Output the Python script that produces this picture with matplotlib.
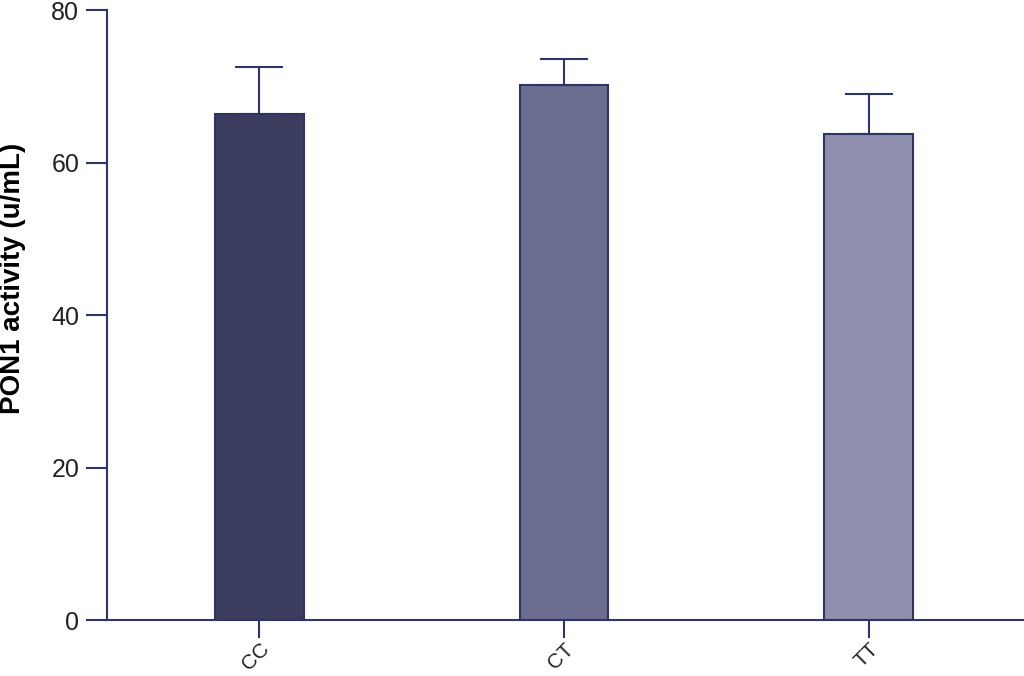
import matplotlib.pyplot as plt
from matplotlib import font_manager

# Data
genotypes = ['CC', 'CT', 'TT']
pon1_mean = [66.4, 70.2, 63.7]
pon1_sd = [6.1, 3.4, 5.3]
bar_colors = ['#3b3d5e', '#6b6e90', '#9090ae']
edge = '#2e3565'

names = {f.name for f in font_manager.fontManager.ttflist}
font = 'Liberation Sans Narrow' if 'Liberation Sans Narrow' in names else 'Liberation Sans'
plt.rcParams['font.family'] = [font, 'DejaVu Sans']

fig = plt.figure(figsize=(10.24, 6.76), dpi=100)
ax = fig.add_axes([0.1045, 0.0828, 0.8955, 0.9024])

x = range(len(genotypes))
ax.bar(x, pon1_mean, width=0.29, color=bar_colors, edgecolor=edge, linewidth=1.5,
       yerr=[[0] * 3, pon1_sd], capsize=17,
       error_kw={'ecolor': edge, 'elinewidth': 1.5, 'capthick': 1.5})

ax.set_xlim(-0.5, 2.51)
ax.set_ylim(0, 80)
ax.set_yticks([0, 20, 40, 60, 80])
ax.set_xticks(list(x))
ax.set_xticklabels(genotypes, rotation=45, ha='right', rotation_mode='anchor')

for s in ['top', 'right']:
    ax.spines[s].set_visible(False)
for s in ['left', 'bottom']:
    ax.spines[s].set_color(edge)
    ax.spines[s].set_linewidth(1.5)
ax.tick_params(axis='both', colors=edge, width=1.5, length=15, labelsize=18,
               labelcolor='#222222')
ax.tick_params(axis='y', pad=5)
ax.tick_params(axis='x', pad=1, length=13, labelsize=15)

ax.set_ylabel('PON1 activity (u/mL)', fontsize=20, fontweight='bold')
ax.yaxis.set_label_coords(-0.088, 0.56)

fig.savefig('out.png', dpi=100)
